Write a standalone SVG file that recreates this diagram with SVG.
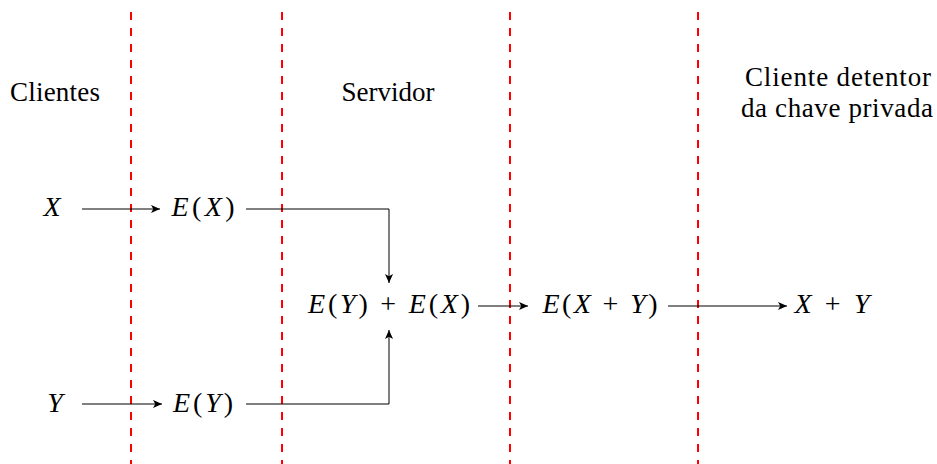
<svg xmlns="http://www.w3.org/2000/svg" width="937" height="464" viewBox="0 0 937 464">
<defs>
<style>
.sep{stroke:#ff0000;stroke-width:2;stroke-dasharray:8 8;fill:none}
.con{stroke:#000;stroke-width:1;fill:none}
text{fill:#000;text-anchor:middle;font-family:"Liberation Serif","DejaVu Serif","Times New Roman",serif}
.lbl{font-size:27px}
.m{font-size:28px}
.i{font-style:italic}
</style>
<marker id="ah" viewBox="0 0 10 10" refX="10" refY="5" markerWidth="9" markerHeight="9" markerUnits="userSpaceOnUse" orient="auto">
<path d="M0,0.5 L10,5 L0,9.5 L2.5,5 Z" fill="#000"/>
</marker>
</defs>
<rect width="937" height="464" fill="#fff"/>
<g id="separators">
<line class="sep" x1="131" y1="12" x2="131" y2="464"/>
<line class="sep" x1="282" y1="12" x2="282" y2="464"/>
<line class="sep" x1="510" y1="12" x2="510" y2="464"/>
<line class="sep" x1="698" y1="12" x2="698" y2="464"/>
</g>
<g id="headers">
<text id="h-clientes" class="lbl" x="55" y="101" textLength="90" lengthAdjust="spacing">Clientes</text>
<text id="h-servidor" class="lbl" x="388" y="101" textLength="93" lengthAdjust="spacing">Servidor</text>
<text id="h-detentor" class="lbl" x="838" y="86" textLength="186" lengthAdjust="spacing">Cliente detentor</text>
<text id="h-detentor2" class="lbl" x="837" y="117" textLength="192" lengthAdjust="spacing">da chave privada</text>
</g>
<g id="connectors">
<line class="con" x1="82" y1="209" x2="160" y2="209" marker-end="url(#ah)"/>
<line class="con" x1="82" y1="404" x2="162" y2="404" marker-end="url(#ah)"/>
<polyline class="con" points="246,209 389,209 389,283" marker-end="url(#ah)"/>
<polyline class="con" points="246,404 389,404 389,330" marker-end="url(#ah)"/>
<line class="con" x1="478" y1="306" x2="528" y2="306" marker-end="url(#ah)"/>
<line class="con" x1="668" y1="306" x2="787" y2="306" marker-end="url(#ah)"/>
</g>
<g id="nodes">
<g id="node-x"><text class="m" x="52" y="216"><tspan class="i">X</tspan></text></g>
<g id="node-y"><text class="m" x="55" y="412"><tspan class="i">Y</tspan></text></g>
<g id="node-ex"><text class="m" x="203" y="216" textLength="63" lengthAdjust="spacing"><tspan class="i">E</tspan>(<tspan class="i">X</tspan>)</text></g>
<g id="node-ey"><text class="m" x="203" y="412" textLength="60" lengthAdjust="spacing"><tspan class="i">E</tspan>(<tspan class="i">Y</tspan>)</text></g>
<g id="node-sum"><text class="m" x="389" y="313" textLength="162" lengthAdjust="spacing"><tspan class="i">E</tspan>(<tspan class="i">Y</tspan>) + <tspan class="i">E</tspan>(<tspan class="i">X</tspan>)</text></g>
<g id="node-exy"><text class="m" x="600" y="313" textLength="115" lengthAdjust="spacing"><tspan class="i">E</tspan>(<tspan class="i">X</tspan> + <tspan class="i">Y</tspan>)</text></g>
<g id="node-xy"><text class="m" x="832" y="313" textLength="75" lengthAdjust="spacing"><tspan class="i">X</tspan> + <tspan class="i">Y</tspan></text></g>
</g>
</svg>
